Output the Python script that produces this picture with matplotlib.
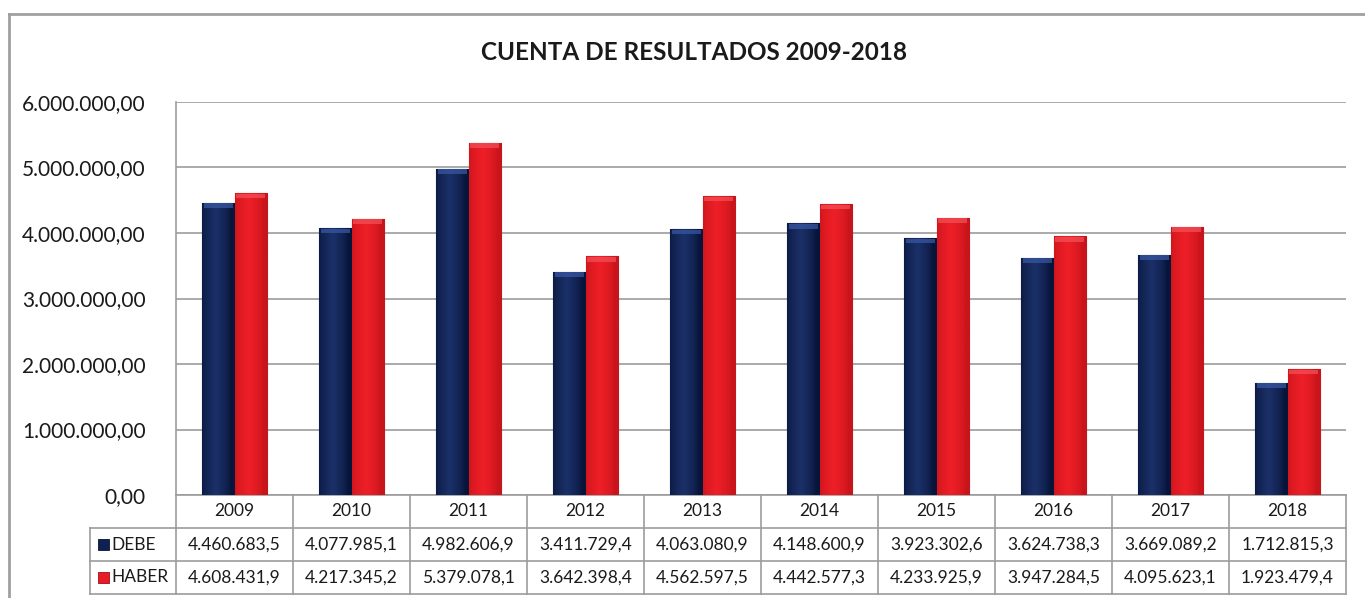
import matplotlib
matplotlib.use("Agg")
import matplotlib.pyplot as plt
import matplotlib.transforms as mtransforms
from matplotlib.lines import Line2D
from matplotlib.colors import to_rgb
import numpy as np

plt.rcParams['font.family'] = ['Lato', 'DejaVu Sans']

years = ['2009', '2010', '2011', '2012', '2013', '2014', '2015', '2016', '2017', '2018']
debe = [4460683.5, 4077985.1, 4982606.9, 3411729.4, 4063080.9,
        4148600.9, 3923302.6, 3624738.3, 3669089.2, 1712815.3]
haber = [4608431.9, 4217345.2, 5379078.1, 3642398.4, 4562597.5,
         4442577.3, 4233925.9, 3947284.5, 4095623.1, 1923479.4]
yticks = [0, 1e6, 2e6, 3e6, 4e6, 5e6, 6e6]


def es_fmt(v, dec):
    s = f"{v:,.{dec}f}"
    return s.replace(',', 'X').replace('.', ',').replace('X', '.')


W, H = 1365, 598
fig = plt.figure(figsize=(W / 100, H / 100), dpi=100)


def fx(px):
    return px / W


def fy(py):
    return 1 - py / H


left, right, top, bottom = 176, 1346, 102, 495
ax = fig.add_axes([fx(left), fy(bottom), fx(right - left), fy(top) - fy(bottom)])

x = np.arange(len(years))
bw = 0.28
off = 0.14

# shaded bar fill: darker edges, lighter core, light bevel on top
def shade_bar(rect, base, edge, top_col):
    x0, y0 = rect.get_x(), rect.get_y()
    w, h = rect.get_width(), rect.get_height()
    t = np.linspace(0, 1, 64)
    prof = np.clip(1 - np.abs(t - 0.42) * 2.2, 0, 1) ** 0.6
    b, e = np.array(to_rgb(base)), np.array(to_rgb(edge))
    cols = e[None, :] * (1 - prof[:, None]) + b[None, :] * prof[:, None]
    img = cols[None, :, :]
    im = ax.imshow(img, extent=[x0, x0 + w, y0, y0 + h], aspect='auto',
                   zorder=3, interpolation='bilinear')
    im.set_clip_path(rect)
    ax.fill_between([x0 + w * 0.06, x0 + w * 0.94], y0 + h - 0.08e6, y0 + h - 0.01e6,
                    color=top_col, zorder=4, lw=0, alpha=0.7)


bars_d = ax.bar(x - off, debe, bw, color='#0E2152', edgecolor='#081430', lw=0.8, zorder=2)
bars_h = ax.bar(x + off, haber, bw, color='#E81C24', edgecolor='#9A1016', lw=0.8, zorder=2)
for r in bars_d:
    shade_bar(r, '#1B3068', '#08153A', '#3A5AA6')
for r in bars_h:
    shade_bar(r, '#EE1F27', '#C8141B', '#F4525A')

ax.set_xlim(-0.5, len(years) - 0.5)
ax.set_ylim(0, 6e6)
ax.set_yticks(yticks)
ax.set_yticklabels([es_fmt(v, 2) for v in yticks], fontsize=15, color='#1a1a1a')
ax.tick_params(axis='y', length=0, pad=22)
ax.tick_params(axis='x', length=0, labelbottom=False)
ax.grid(axis='y', color='#9C9C9C', lw=1.2, zorder=0)
for s in ['top', 'right', 'bottom']:
    ax.spines[s].set_visible(False)
ax.spines['left'].set_color('#9C9C9C')
ax.spines['left'].set_linewidth(1.2)

# data table under the plot
ph = bottom - top
trans = mtransforms.blended_transform_factory(ax.transData, ax.transAxes)
row_h = 33 / ph
lc = '#9C9C9C'
ylines = [0, -row_h, -2 * row_h, -3 * row_h]
for i, yl in enumerate(ylines):
    x_start = -0.5 if i == 0 else -0.5 - 86 / 117
    ax.add_line(Line2D([x_start, len(years) - 0.5], [yl, yl], transform=trans,
                       color=lc, lw=1.2, clip_on=False))
for k in range(len(years) + 1):
    ax.add_line(Line2D([k - 0.5, k - 0.5], [0, ylines[-1]], transform=trans,
                       color=lc, lw=1.2, clip_on=False))
ax.add_line(Line2D([-0.5 - 86 / 117] * 2, [ylines[1], ylines[-1]], transform=trans,
                   color=lc, lw=1.2, clip_on=False))

for i, yr in enumerate(years):
    ax.text(i, -row_h * 0.5, yr, transform=trans, ha='center', va='center',
            fontsize=12.5, color='#1a1a1a')
    ax.text(i, -row_h * 1.5, es_fmt(debe[i], 1), transform=trans, ha='center',
            va='center', fontsize=12.5, color='#1a1a1a')
    ax.text(i, -row_h * 2.5, es_fmt(haber[i], 1), transform=trans, ha='center',
            va='center', fontsize=12.5, color='#1a1a1a')

# legend keys inside the table
for j, (name, col, ec) in enumerate([('DEBE', '#0E2152', '#081430'),
                                     ('HABER', '#E81C24', '#9A1016')]):
    yc = fy(528 + 33 * j + 16.5)
    fig.add_artist(plt.Rectangle((fx(98), yc - 5.5 / H), 11 / W, 11 / H,
                                 facecolor=col, edgecolor=ec, lw=0.6))
    fig.text(fx(111), yc, name, ha='left', va='center', fontsize=12.5, color='#1a1a1a')

# title and chart frame
fig.text(fx(694), fy(52), 'CUENTA DE RESULTADOS 2009-2018', ha='center', va='center',
         fontsize=17.5, fontweight='bold', color='#1a1a1a')
fig.add_artist(Line2D([fx(9), fx(9)], [fy(14), 0], color='#A0A0A0', lw=2))
fig.add_artist(Line2D([fx(9), 1], [fy(14), fy(14)], color='#A0A0A0', lw=2))

fig.savefig('out.png', dpi=100)
